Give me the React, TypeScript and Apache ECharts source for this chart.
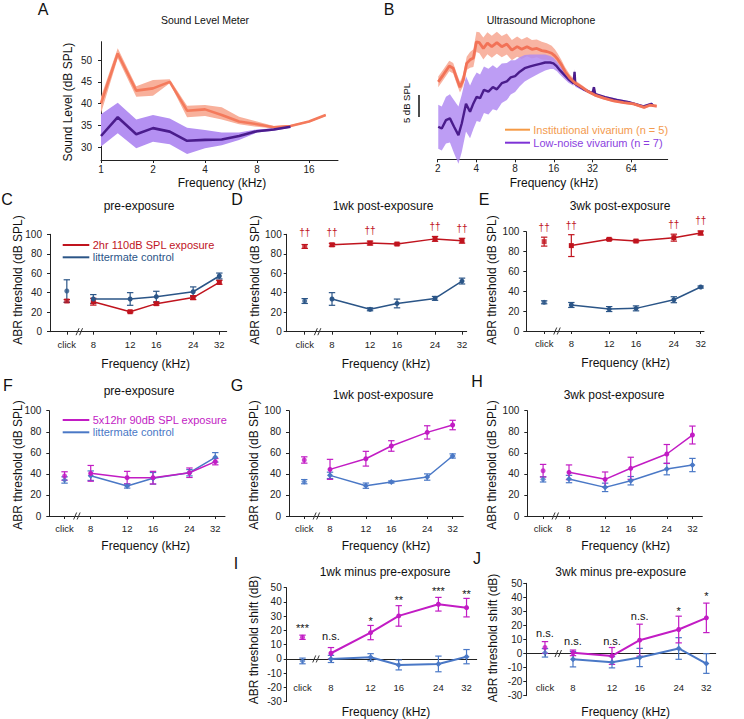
import React, { useEffect, useRef } from 'react';
import * as echarts from 'echarts';

const FONT = '"Liberation Sans", Arial, Helvetica, sans-serif';

// ---------- Panel A : Sound Level Meter (1/3-octave bands, kHz) ----------
const aFreq = [1, 1.25, 1.6, 2, 2.5, 3.15, 4, 5, 6.3, 8, 10, 12.5, 16, 20];
const aOrange = [40.1, 51.5, 43.0, 43.5, 45.0, 38.4, 38.7, 37.4, 35.9, 35.3, 34.6, 34.9, 35.9, 37.4];
const aOrangeLo = [37.8, 50.4, 41.6, 41.8, 44.7, 36.9, 37.2, 36.4, 35.3, 34.7, 34.3, 34.7, 35.7, 37.2];
const aOrangeHi = [41.6, 52.7, 44.0, 45.4, 45.6, 39.5, 39.7, 39.2, 37.0, 35.9, 34.9, 35.1, 36.1, 37.6];
const aPurpleFreq = [1, 1.25, 1.6, 2, 2.5, 3.15, 4, 5, 6.3, 8, 10, 12.5];
const aPurple = [32.6, 36.9, 33.0, 34.4, 33.6, 31.5, 31.7, 31.8, 32.6, 33.7, 34.1, 34.7];
const aPurpleLo = [30.2, 33.2, 29.8, 31.3, 30.7, 28.5, 29.8, 30.5, 31.7, 33.4, 33.8, 34.5];
const aPurpleHi = [37.6, 40.2, 36.4, 37.4, 36.6, 34.5, 34.0, 33.4, 33.4, 34.1, 34.4, 35.0];
const aYTicks = [30, 35, 40, 45, 50];

// ---------- Panel B : Ultrasound Microphone (relative dB) ----------
const bOrangeFreq = [2.02, 2.21, 2.46, 2.64, 2.84, 2.98, 3.16, 3.36, 3.57, 3.79, 4.0, 4.22, 4.53, 4.87, 5.27, 5.77, 6.3, 6.9, 7.55, 8.3, 9.0, 9.9, 10.8, 11.8, 12.9, 14.1, 15.4, 16.3, 17.2, 18.4, 19.6, 21.4, 23.3, 26.4, 29.6, 33.4, 39.1, 46.6, 55.9, 66.8, 80.6, 89.2, 101];
const bOrange = [17.6, 19.2, 21.2, 20.7, 18.0, 16.4, 18.0, 21.8, 22.6, 23.0, 26.7, 26.5, 25.2, 26.4, 25.6, 26.5, 25.6, 26.2, 24.8, 25.6, 25.0, 25.6, 25.0, 25.2, 24.7, 24.5, 24.1, 23.5, 22.7, 21.4, 19.9, 18.4, 17.4, 16.4, 15.4, 14.6, 13.9, 13.3, 12.9, 12.6, 11.8, 12.3, 12.1];
const bOrangeHalf = [1.2, 1.2, 1.2, 1.2, 1.2, 1.2, 1.3, 1.5, 1.8, 2.0, 2.3, 2.4, 2.5, 2.5, 2.5, 2.5, 2.4, 2.4, 2.3, 2.3, 2.2, 2.2, 2.1, 2.0, 2.0, 1.9, 1.7, 1.5, 1.3, 1.1, 1.0, 0.8, 0.6, 0.5, 0.4, 0.3, 0.3, 0.3, 0.3, 0.3, 0.3, 0.3, 0.3];
const bPurpleFreq = [2.02, 2.15, 2.32, 2.49, 2.68, 2.90, 3.08, 3.32, 3.57, 3.79, 4.02, 4.27, 4.58, 4.96, 5.37, 5.77, 6.30, 6.9, 7.4, 8.0, 8.7, 9.5, 10.5, 11.4, 12.5, 13.7, 15.0, 15.9, 16.9, 17.9, 19.0, 20.8, 22.8, 23.2, 23.5, 27.3, 32.0, 32.8, 33.6, 40, 49.2, 62.7, 79.8, 92, 95];
const bPurple = [7.4, 7.0, 8.9, 9.3, 7.4, 5.5, 8.2, 12.6, 10.8, 12.7, 14.2, 13.9, 15.8, 15.4, 16.4, 15.9, 17.3, 17.7, 18.6, 18.9, 19.9, 20.7, 21.1, 21.4, 21.7, 22.0, 22.0, 21.8, 21.1, 20.2, 19.4, 18.2, 17.3, 19.9, 17.1, 15.9, 15.0, 16.4, 14.8, 14.1, 13.5, 12.9, 12.0, 12.6, 12.1];
const bPurpleHalf = [5.0, 5.0, 5.3, 5.5, 6.0, 6.5, 6.5, 6.3, 6.0, 5.8, 5.5, 5.4, 5.3, 5.2, 5.0, 4.8, 4.5, 4.2, 3.9, 3.6, 3.3, 3.0, 2.7, 2.4, 2.1, 1.8, 1.5, 1.3, 1.1, 1.0, 0.9, 0.8, 0.6, 0.6, 0.6, 0.4, 0.3, 0.3, 0.3, 0.3, 0.3, 0.3, 0.3, 0.3, 0.3];

// ---------- ABR panels ----------
const abrLabels = ['click', '8', '12', '16', '24', '32'];
const CLICK_POS = 2.58;
const BREAK_POS = 2.79;
const abrPos = abrLabels.map((l) => (l === 'click' ? CLICK_POS : Math.log2(Number(l))));

// C pre-exposure (2hr 110 dB)
const cRed = [31.5, 30.8, 20.5, 28.8, 35.0, 50.7];
const cRedErr = [1.5, 3.5, 1.0, 1.5, 2.0, 2.0];
const cNavy = [41.8, 33.6, 33.6, 36.0, 41.0, 57.2];
const cNavyErr = [11.5, 4.5, 6.5, 5.5, 5.0, 3.0];
// D 1wk
const dRed = [87.5, 89.2, 91.0, 90.0, 95.3, 93.4];
const dRedErr = [2.0, 1.5, 2.0, 1.0, 2.5, 2.5];
const dNavy = [31.5, 33.6, 23.0, 29.0, 34.2, 52.0];
const dNavyErr = [2.5, 6.5, 1.5, 4.5, 2.0, 3.0];
const dSig = ['††', '††', '††', '', '††', '††'];
const dSigY = [102, 102, 103.4, 0, 107.9, 106.2];
// E 3wk
const eRed = [90.0, 86.0, 92.3, 90.6, 94.0, 98.7];
const eRedErr = [4.5, 11.0, 1.0, 1.0, 3.5, 2.0];
const eNavy = [28.9, 26.2, 22.1, 22.8, 31.5, 44.3];
const eNavyErr = [1.5, 2.5, 2.5, 2.5, 3.0, 1.0];
const eSig = ['††', '††', '', '', '††', '††'];
const eSigY = [104, 106.7, 0, 0, 107.4, 111.4];
// F pre-exposure (5x12hr 90 dB)
const fMag = [38.0, 40.5, 36.4, 36.4, 41.1, 51.6];
const fMagErr = [4.0, 7.5, 6.0, 6.0, 4.5, 3.0];
const fBlue = [34.2, 38.3, 28.5, 35.8, 41.1, 55.7];
const fBlueErr = [3.0, 4.5, 2.0, 5.5, 3.0, 4.5];
// G 1wk
const gMag = [53.2, 44.3, 54.4, 66.5, 79.4, 86.4];
const gMagErr = [3.0, 9.5, 7.0, 5.0, 6.3, 4.5];
const gBlue = [32.6, 38.6, 28.8, 32.3, 37.0, 57.0];
const gBlueErr = [2.0, 3.0, 2.5, 1.0, 3.0, 2.0];
// H 3wk
const hMag = [43.0, 41.5, 34.8, 45.3, 58.9, 76.9];
const hMagErr = [6.0, 7.0, 7.0, 10.5, 9.0, 8.5];
const hBlue = [34.8, 35.1, 27.2, 33.5, 44.6, 48.4];
const hBlueErr = [2.5, 3.5, 4.0, 4.0, 5.5, 6.3];
// I 1wk minus pre
const iMag = [15.2, 4.0, 18.5, 30.2, 38.4, 36.0];
const iMagErr = [1.5, 4.0, 5.0, 7.2, 4.8, 6.5];
const iBlue = [-1.4, 0.0, 1.2, -4.2, -3.5, 1.6];
const iBlueErr = [2.0, 2.5, 2.5, 3.5, 5.5, 5.0];
const iSig = ['***', 'n.s.', '*', '**', '***', '**'];
const iSigY = [21.8, 16, 26.9, 41.6, 47.5, 45.8];
// J 3wk minus pre
const jMag = [4.3, 0.5, -1.7, 9.5, 17.1, 25.4];
const jMagErr = [4.2, 2.0, 6.0, 11.4, 9.5, 10.5];
const jBlue = [0.5, -4.0, -6.2, -2.8, 3.6, -7.1];
const jBlueErr = [3.0, 5.5, 4.0, 6.5, 7.7, 7.0];
const jSig = ['n.s.', 'n.s.', 'n.s.', 'n.s.', '*', '*'];
const jSigY = [14.5, 8.6, 8.6, 26.4, 30.1, 40.8];

const RED = '#C0141E';
const NAVY = '#2B5587';
const MAG = '#C21CC4';
const BLUE = '#4A78C6';
const AX = '#222';

type Grp = { mean: number[]; err: number[]; color: string; symbol: string; size: number };
type Panel = {
  grid: { left: number; top: number; width: number; height: number };
  xMin: number; xMax: number; yMin: number; yMax: number; yInt: number;
  groups: Grp[]; sig?: string[]; sigY?: number[]; sigColor?: string; sigSize?: number;
  xLabelMargin: number; yLabelMargin: number; lineW: number;
};

const panels: Panel[] = [
  { grid: { left: 50, top: 234.3, width: 176.7, height: 97.4 }, xMin: 2.313, xMax: 5.117, yMin: 0, yMax: 100, yInt: 20,
    groups: [{ mean: cRed, err: cRedErr, color: RED, symbol: 'rect', size: 5 }, { mean: cNavy, err: cNavyErr, color: NAVY, symbol: 'circle', size: 5 }],
    xLabelMargin: 7.5, yLabelMargin: 8, lineW: 1.5 },
  { grid: { left: 286.7, top: 234.3, width: 180, height: 97.4 }, xMin: 2.303, xMax: 5.072, yMin: 0, yMax: 100, yInt: 20,
    groups: [{ mean: dRed, err: dRedErr, color: RED, symbol: 'rect', size: 5 }, { mean: dNavy, err: dNavyErr, color: NAVY, symbol: 'circle', size: 5 }],
    sig: dSig, sigY: dSigY, sigColor: RED, sigSize: 10, xLabelMargin: 7.5, yLabelMargin: 5, lineW: 1.5 },
  { grid: { left: 526.3, top: 231.7, width: 177.7, height: 99.3 }, xMin: 2.304, xMax: 5.051, yMin: 0, yMax: 100, yInt: 20,
    groups: [{ mean: eRed, err: eRedErr, color: RED, symbol: 'rect', size: 5 }, { mean: eNavy, err: eNavyErr, color: NAVY, symbol: 'circle', size: 5 }],
    sig: eSig, sigY: eSigY, sigColor: RED, sigSize: 10, xLabelMargin: 7.5, yLabelMargin: 7, lineW: 1.5 },
  { grid: { left: 49.3, top: 410.7, width: 175.7, height: 105.3 }, xMin: 2.335, xMax: 5.156, yMin: 0, yMax: 100, yInt: 20,
    groups: [{ mean: fBlue, err: fBlueErr, color: BLUE, symbol: 'diamond', size: 6 }, { mean: fMag, err: fMagErr, color: MAG, symbol: 'circle', size: 5 }],
    xLabelMargin: 7.5, yLabelMargin: 8, lineW: 1.5 },
  { grid: { left: 289, top: 410.7, width: 174.3, height: 105.3 }, xMin: 2.331, xMax: 5.174, yMin: 0, yMax: 100, yInt: 20,
    groups: [{ mean: gBlue, err: gBlueErr, color: BLUE, symbol: 'diamond', size: 6 }, { mean: gMag, err: gMagErr, color: MAG, symbol: 'circle', size: 5 }],
    xLabelMargin: 7.5, yLabelMargin: 8, lineW: 1.5 },
  { grid: { left: 527.3, top: 410.7, width: 175, height: 105.3 }, xMin: 2.324, xMax: 5.16, yMin: 0, yMax: 100, yInt: 20,
    groups: [{ mean: hBlue, err: hBlueErr, color: BLUE, symbol: 'diamond', size: 6 }, { mean: hMag, err: hMagErr, color: MAG, symbol: 'circle', size: 5 }],
    xLabelMargin: 7.5, yLabelMargin: 8, lineW: 1.5 },
  { grid: { left: 286.7, top: 587.7, width: 190, height: 114 }, xMin: 2.347, xMax: 5.15, yMin: -30, yMax: 50, yInt: 10,
    groups: [{ mean: iBlue, err: iBlueErr, color: BLUE, symbol: 'diamond', size: 6 }, { mean: iMag, err: iMagErr, color: MAG, symbol: 'circle', size: 5 }],
    sig: iSig, sigY: iSigY, sigColor: '#111', sigSize: 11, xLabelMargin: 24, yLabelMargin: 5, lineW: 2 },
  { grid: { left: 526.3, top: 583.3, width: 189.4, height: 112.4 }, xMin: 2.30, xMax: 5.14, yMin: -30, yMax: 50, yInt: 10,
    groups: [{ mean: jBlue, err: jBlueErr, color: BLUE, symbol: 'diamond', size: 6 }, { mean: jMag, err: jMagErr, color: MAG, symbol: 'circle', size: 5 }],
    sig: jSig, sigY: jSigY, sigColor: '#111', sigSize: 11, xLabelMargin: 29, yLabelMargin: 4, lineW: 2 },
];

const abrFmt = (v: number) => {
  const i = abrPos.findIndex((p) => Math.abs(p - v) < 1e-6);
  return i >= 0 ? abrLabels[i] : '';
};

function errRender(color: string) {
  return (params: any, api: any) => {
    const x = api.value(0);
    const lo = api.coord([x, api.value(1)]);
    const hi = api.coord([x, api.value(2)]);
    const w = 3.2;
    const st = { stroke: color, lineWidth: 1.2 };
    return {
      type: 'group',
      children: [
        { type: 'line', shape: { x1: lo[0], y1: lo[1], x2: hi[0], y2: hi[1] }, style: st },
        { type: 'line', shape: { x1: lo[0] - w, y1: lo[1], x2: lo[0] + w, y2: lo[1] }, style: st },
        { type: 'line', shape: { x1: hi[0] - w, y1: hi[1], x2: hi[0] + w, y2: hi[1] }, style: st },
      ],
    };
  };
}

function breakRender(params: any, api: any) {
  const p = api.coord([api.value(0), api.value(1)]);
  const st = { stroke: '#333', lineWidth: 1 };
  return {
    type: 'group',
    children: [
      { type: 'line', shape: { x1: p[0] - 4, y1: p[1] + 3.5, x2: p[0] - 1, y2: p[1] - 3.5 }, style: st },
      { type: 'line', shape: { x1: p[0] - 0.5, y1: p[1] + 3.5, x2: p[0] + 2.5, y2: p[1] - 3.5 }, style: st },
    ],
  };
}

function textRender(texts: string[], color: string, size: number) {
  return (params: any, api: any) => {
    const p = api.coord([api.value(0), api.value(1)]);
    return {
      type: 'text',
      x: p[0],
      y: p[1],
      style: {
        text: texts[params.dataIndex], fill: color, font: `${size}px ${FONT}`,
        align: 'center', verticalAlign: 'middle', textAlign: 'center', textVerticalAlign: 'middle',
      },
    };
  };
}

// one polygon per band: upper edge left->right, lower edge right->left
function bandRender(xs: number[], lo: number[], hi: number[], color: string, opacity: number) {
  return (params: any, api: any) => {
    const pts: number[][] = [];
    for (let i = 0; i < xs.length; i++) pts.push(api.coord([xs[i], hi[i]]));
    for (let i = xs.length - 1; i >= 0; i--) pts.push(api.coord([xs[i], lo[i]]));
    return { type: 'polygon', shape: { points: pts }, style: { fill: color, opacity } };
  };
}

function T(text: string, x: number, y: number, size: number, opt: any = {}) {
  return {
    type: 'text', x, y, rotation: opt.rot || 0, z: 10,
    style: {
      text, fill: opt.color || '#111', font: `${size}px ${FONT}`,
      textAlign: opt.align || 'center', textVerticalAlign: 'middle',
      align: opt.align || 'center', verticalAlign: 'middle',
    },
  };
}
function L(x1: number, y1: number, x2: number, y2: number, color: string, w: number) {
  return { type: 'line', z: 10, shape: { x1, y1, x2, y2 }, style: { stroke: color, lineWidth: w } };
}

function buildOption() {
  const grids: any[] = [];
  const xAxes: any[] = [];
  const yAxes: any[] = [];
  const series: any[] = [];
  const axLine = { show: true, lineStyle: { color: AX, width: 1 } };
  const tick = { show: true, length: 3, lineStyle: { color: AX, width: 1 } };
  const lbl = { color: '#222', fontFamily: FONT, fontSize: 10 };
  const gridBase = { containLabel: false, outerBoundsMode: 'none' };

  // ---- A ----
  grids.push({ ...gridBase, left: 101, top: 41.7, width: 237, height: 118.3 });
  xAxes.push({ type: 'log', logBase: 2, gridIndex: 0, min: 1, max: 23.55, axisLine: axLine, axisTick: tick,
    axisLabel: { ...lbl, margin: 4, showMaxLabel: false }, splitLine: { show: false }, minorTick: { show: false } });
  yAxes.push({ type: 'value', gridIndex: 0, min: 27.1, max: 54.2, axisLine: axLine,
    axisTick: { ...tick, customValues: aYTicks }, axisLabel: { ...lbl, margin: 9, customValues: aYTicks }, splitLine: { show: false } });
  series.push({ type: 'custom', xAxisIndex: 0, yAxisIndex: 0, z: 1, clip: false,
    renderItem: bandRender(aFreq, aOrangeLo, aOrangeHi, '#F8B09B', 1), data: [[aFreq[0], aOrange[0]]] });
  series.push({ type: 'custom', xAxisIndex: 0, yAxisIndex: 0, z: 2, clip: false,
    renderItem: bandRender(aPurpleFreq, aPurpleLo, aPurpleHi, '#B490F2', 1), data: [[aPurpleFreq[0], aPurple[0]]] });
  series.push({ type: 'line', xAxisIndex: 0, yAxisIndex: 0, symbol: 'none', z: 3, lineStyle: { color: '#F47A5C', width: 2.6 },
    data: aFreq.map((f, i) => [f, aOrange[i]]) });
  series.push({ type: 'line', xAxisIndex: 0, yAxisIndex: 0, symbol: 'none', z: 4, lineStyle: { color: '#4A1C8C', width: 2.6 },
    data: aPurpleFreq.map((f, i) => [f, aPurple[i]]) });

  // ---- B ----
  grids.push({ ...gridBase, left: 437.7, top: 27.3, width: 230, height: 132 });
  xAxes.push({ type: 'log', logBase: 2, gridIndex: 1, min: 2, max: 123, axisLine: axLine, axisTick: tick,
    axisLabel: { ...lbl, margin: 4, showMaxLabel: false }, splitLine: { show: false }, minorTick: { show: false } });
  yAxes.push({ type: 'value', gridIndex: 1, min: 0, max: 30, show: false, splitLine: { show: false } });
  const bOLo = bOrange.map((v, i) => v - bOrangeHalf[i]);
  const bOHi = bOrange.map((v, i) => v + bOrangeHalf[i]);
  const bPLo = bPurple.map((v, i) => v - bPurpleHalf[i]);
  const bPHi = bPurple.map((v, i) => v + bPurpleHalf[i]);
  series.push({ type: 'custom', xAxisIndex: 1, yAxisIndex: 1, z: 1, clip: false,
    renderItem: bandRender(bOrangeFreq, bOLo, bOHi, '#F8B4A2', 1), data: [[bOrangeFreq[0], bOrange[0]]] });
  series.push({ type: 'custom', xAxisIndex: 1, yAxisIndex: 1, z: 2, clip: false,
    renderItem: bandRender(bPurpleFreq, bPLo, bPHi, '#B28CF2', 0.85), data: [[bPurpleFreq[0], bPurple[0]]] });
  series.push({ type: 'line', xAxisIndex: 1, yAxisIndex: 1, symbol: 'none', z: 3, lineStyle: { color: '#4A1C8C', width: 2.4 },
    data: bPurpleFreq.map((f, i) => [f, bPurple[i]]) });
  series.push({ type: 'line', xAxisIndex: 1, yAxisIndex: 1, symbol: 'none', z: 4, lineStyle: { color: '#F27257', width: 2.8 },
    data: bOrangeFreq.map((f, i) => [f, bOrange[i]]) });

  // ---- ABR panels ----
  panels.forEach((pn, k) => {
    const gi = k + 2;
    grids.push({ ...gridBase, ...pn.grid });
    // where the y range crosses zero, lift the x axis (line, ticks, labels) up to the zero level
    const zeroOffset = pn.yMin < 0 ? -pn.grid.height * (0 - pn.yMin) / (pn.yMax - pn.yMin) : 0;
    xAxes.push({ type: 'value', gridIndex: gi, min: pn.xMin, max: pn.xMax, position: 'bottom', offset: zeroOffset,
      axisLine: { ...axLine, onZero: false },
      axisTick: { ...tick, customValues: abrPos },
      axisLabel: { ...lbl, fontSize: 9.5, margin: pn.xLabelMargin, customValues: abrPos, formatter: abrFmt },
      splitLine: { show: false } });
    yAxes.push({ type: 'value', gridIndex: gi, min: pn.yMin, max: pn.yMax, interval: pn.yInt,
      axisLine: { ...axLine, onZero: false }, axisTick: tick, axisLabel: { ...lbl, fontSize: 10, margin: pn.yLabelMargin }, splitLine: { show: false } });
    pn.groups.forEach((g) => {
      series.push({ type: 'custom', xAxisIndex: gi, yAxisIndex: gi, clip: false, z: 3,
        encode: { x: 0, y: [1, 2] }, renderItem: errRender(g.color),
        data: g.mean.map((m, i) => [abrPos[i], m - g.err[i], m + g.err[i]]) });
      series.push({ type: 'line', xAxisIndex: gi, yAxisIndex: gi, z: 4, symbol: g.symbol, symbolSize: g.size,
        lineStyle: { color: g.color, width: pn.lineW }, itemStyle: { color: g.color },
        data: g.mean.slice(1).map((m, i) => [abrPos[i + 1], m]) });
      series.push({ type: 'scatter', xAxisIndex: gi, yAxisIndex: gi, z: 4, symbol: g.symbol, symbolSize: g.size,
        itemStyle: { color: g.color }, data: [[abrPos[0], g.mean[0]]] });
    });
    series.push({ type: 'custom', xAxisIndex: gi, yAxisIndex: gi, clip: false, z: 5, renderItem: breakRender,
      data: [[BREAK_POS, 0]] });
    if (pn.sig && pn.sigY) {
      const texts: string[] = [];
      const pts: number[][] = [];
      pn.sig.forEach((s, i) => { if (s) { texts.push(s); pts.push([abrPos[i], pn.sigY![i]]); } });
      series.push({ type: 'custom', xAxisIndex: gi, yAxisIndex: gi, clip: false, z: 6,
        renderItem: textRender(texts, pn.sigColor || '#111', pn.sigSize || 11), data: pts });
    }
  });

  const graphic: any[] = [
    // panel letters
    T('A', 43, 9, 16), T('B', 389, 9, 16), T('C', 7, 199, 16), T('D', 237, 199, 16), T('E', 484, 199, 16),
    T('F', 8, 385, 16), T('G', 237, 385, 16), T('H', 477, 381, 16), T('I', 236, 563, 16), T('J', 477, 558, 16),
    // titles
    T('Sound Level Meter', 205, 20, 10.5), T('Ultrasound Microphone', 541, 20, 10.5),
    T('pre-exposure', 139, 206, 12), T('1wk post-exposure', 383, 206, 12), T('3wk post-exposure', 620, 206, 12),
    T('pre-exposure', 139, 391, 12), T('1wk post-exposure', 383, 395, 12), T('3wk post-exposure', 614, 395, 12),
    T('1wk minus pre-exposure', 385, 572, 12), T('3wk minus pre-exposure', 620.7, 572, 12),
    // x titles
    T('Frequency (kHz)', 222, 183, 12), T('Frequency (kHz)', 554, 183, 12),
    T('Frequency (kHz)', 145.7, 364, 12), T('Frequency (kHz)', 386, 364, 12), T('Frequency (kHz)', 625.7, 363, 12),
    T('Frequency (kHz)', 145.7, 545.7, 12), T('Frequency (kHz)', 386, 545.7, 12), T('Frequency (kHz)', 625.7, 545.7, 12),
    T('Frequency (kHz)', 386, 711.7, 12), T('Frequency (kHz)', 625.7, 711.7, 12),
    // y titles
    T('Sound Level (dB SPL)', 68, 102, 12, { rot: Math.PI / 2 }),
    T('ABR threshold (dB SPL)', 18, 280, 12, { rot: Math.PI / 2 }),
    T('ABR threshold (dB SPL)', 255, 280, 12, { rot: Math.PI / 2 }),
    T('ABR threshold (dB SPL)', 492, 280, 12, { rot: Math.PI / 2 }),
    T('ABR threshold (dB SPL)', 18, 465, 12, { rot: Math.PI / 2 }),
    T('ABR threshold (dB SPL)', 254, 465, 12, { rot: Math.PI / 2 }),
    T('ABR threshold (dB SPL)', 492, 465, 12, { rot: Math.PI / 2 }),
    T('ABR threshold shift (dB)', 254, 640, 12, { rot: Math.PI / 2 }),
    T('ABR threshold shift (dB)', 493, 638, 12, { rot: Math.PI / 2 }),
    // scale bar B
    L(419, 95, 419, 117, '#111', 1.5),
    T('5 dB SPL', 406.5, 103, 9.5, { rot: Math.PI / 2 }),
    // legends
    L(505, 129.7, 530, 129.7, '#F59A45', 2), T('Institutional vivarium (n = 5)', 533.3, 129.7, 11, { align: 'left', color: '#F39A4E' }),
    L(505, 142.7, 530, 142.7, '#7E33D6', 2), T('Low-noise vivarium (n = 7)', 533.3, 142.7, 11, { align: 'left', color: '#8B3FE0' }),
    L(62.7, 245, 89.3, 245, RED, 2), T('2hr 110dB SPL exposure', 92.7, 245, 11, { align: 'left', color: RED }),
    L(62.7, 257.3, 89.3, 257.3, NAVY, 2), T('littermate control', 92.7, 257.3, 11, { align: 'left', color: NAVY }),
    L(62.7, 420, 89.3, 420, MAG, 2), T('5x12hr 90dB SPL exposure', 92.7, 420, 11, { align: 'left', color: MAG }),
    L(62.7, 432.3, 89.3, 432.3, BLUE, 2), T('littermate control', 92.7, 432.3, 11, { align: 'left', color: BLUE }),
  ];

  return {
    animation: false,
    backgroundColor: '#ffffff',
    textStyle: { fontFamily: FONT },
    grid: grids,
    xAxis: xAxes,
    yAxis: yAxes,
    series,
    graphic,
  };
}

export default function App() {
  const ref = useRef<HTMLDivElement>(null);
  useEffect(() => {
    if (!ref.current) return;
    const chart = echarts.init(ref.current, null, { renderer: 'svg' });
    chart.setOption(buildOption() as any);
    return () => chart.dispose();
  }, []);
  return (
    <div
      ref={ref}
      style={{ position: 'fixed', left: 0, top: 0, width: 744, height: 719, background: '#fff' }}
    />
  );
}
